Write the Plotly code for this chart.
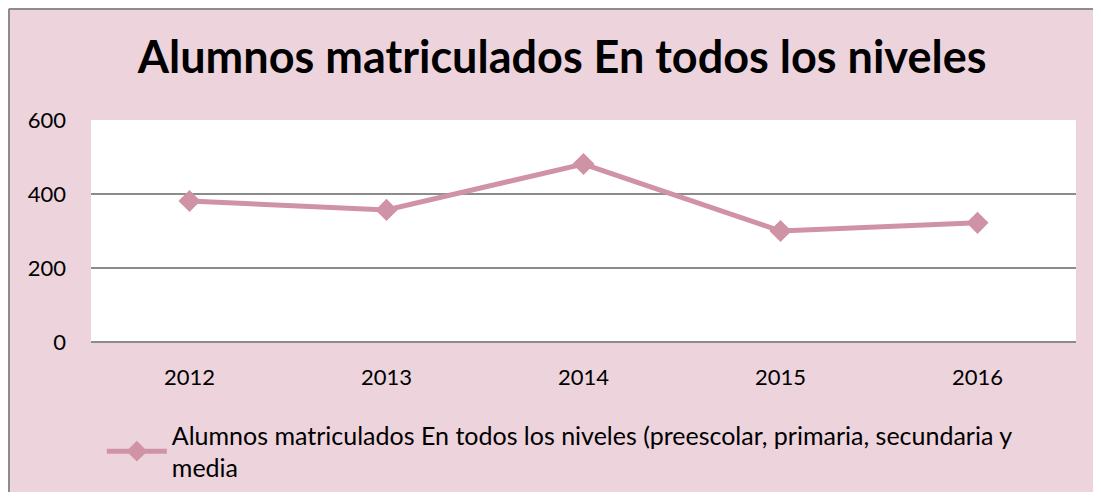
import plotly.graph_objects as go

# data
years = ["2012", "2013", "2014", "2015", "2016"]
alumnos = [381, 357, 481, 300, 322]
serie = "Alumnos matriculados En todos los niveles (preescolar, primaria, secundaria y<br>media"
titulo = "Alumnos matriculados En todos los niveles"
y_ticks = [0, 200, 400, 600]

pink_bg = "#EDD3DC"
line_col = "#D093A6"
grid_col = "#8C8C8C"
fnt = "Lato, Open Sans, sans-serif"

fig = go.Figure(go.Scatter(
    x=years,
    y=alumnos,
    mode="lines+markers",
    name=serie,
    line=dict(color=line_col, width=5),
    marker=dict(symbol="diamond", size=17, color=line_col),
))

# page body keeps its 8px margin, so the figure starts at (8, 8) like the reference frame
W, H = 1093, 484
L, R, T, B = 83, 25, 112, 150
pw, ph = W - L - R, H - T - B

fig.update_layout(
    width=W, height=H,
    margin=dict(l=L, r=R, t=T, b=B),
    paper_bgcolor=pink_bg,
    plot_bgcolor="white",
    font=dict(family=fnt, size=22, color="black"),
    title=dict(text="<b>" + titulo + "</b>", x=0.507, xanchor="center",
               y=0.899, yanchor="middle",
               font=dict(size=45, family=fnt, color="black")),
    showlegend=True,
    legend=dict(orientation="h", x=0.011, xanchor="left",
                yref="container", y=0.165, yanchor="top",
                bgcolor="rgba(0,0,0,0)", font=dict(size=25), itemwidth=60),
    xaxis=dict(range=[-0.5, 4.5], showgrid=False, showline=False, ticks="",
               tickfont=dict(size=22), ticklabelstandoff=20),
    yaxis=dict(range=[0, 600], tickvals=y_ticks, showgrid=True, gridcolor=grid_col,
               gridwidth=2, zeroline=True, zerolinecolor=grid_col, zerolinewidth=2,
               showline=False, ticks="", tickfont=dict(size=22), ticklabelstandoff=24),
)

# frame: only left and top edges are visible in the reference
x_left = -(L - 1) / pw
y_top = 1 + (T - 1) / ph
fig.add_shape(type="line", xref="paper", yref="paper",
              x0=x_left, x1=x_left, y0=-B / ph, y1=y_top,
              line=dict(color=grid_col, width=2))
fig.add_shape(type="line", xref="paper", yref="paper",
              x0=x_left, x1=1 + R / pw, y0=y_top, y1=y_top,
              line=dict(color=grid_col, width=2))

fig.write_html("out.html")
